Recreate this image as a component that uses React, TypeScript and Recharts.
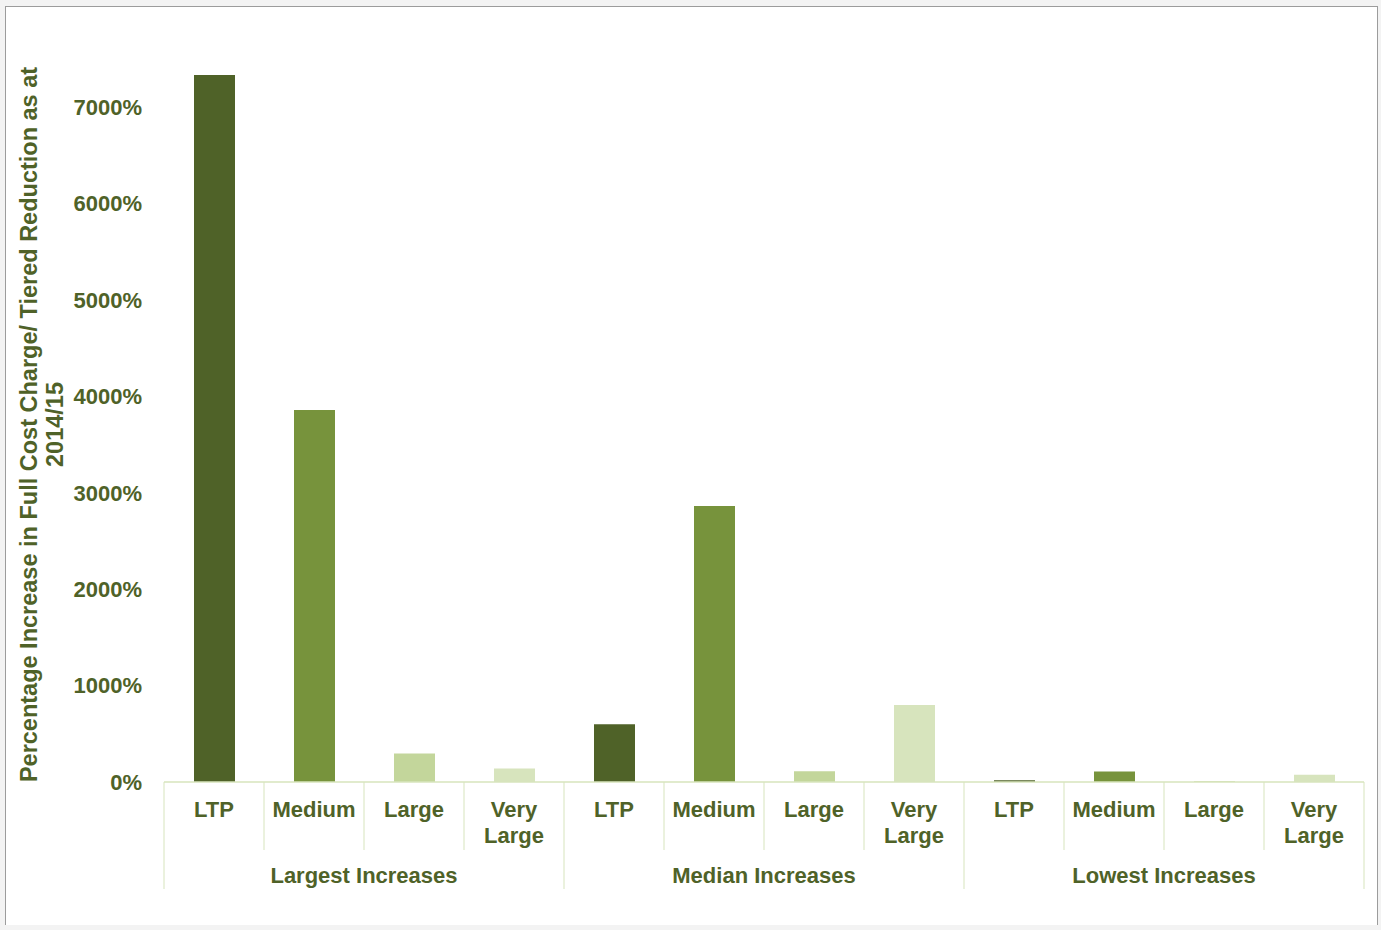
import React from "react";
import { BarChart, Bar, XAxis, YAxis, Cell, Label } from "recharts";

const categories = ["LTP", "Medium", "Large", "Very Large"];
const groups = ["Largest Increases", "Median Increases", "Lowest Increases"];
const largestValues = [7335, 3860, 295, 140];
const medianValues = [600, 2862, 112, 800];
const lowestValues = [18, 108, 8, 75];
const yTicks = [0, 1000, 2000, 3000, 4000, 5000, 6000, 7000];

const barColors: Record<string, string> = {
  LTP: "#4F6228",
  Medium: "#77933C",
  Large: "#C3D69B",
  "Very Large": "#D7E4BD",
};

const seriesByGroup = [largestValues, medianValues, lowestValues];

const data = groups.flatMap((g, gi) =>
  categories.map((c, ci) => ({
    key: `${g}-${c}`,
    category: c,
    group: g,
    first: ci === 0,
    value: seriesByGroup[gi][ci],
  }))
);

const W = 1381;
const H = 930;
const MARGIN = { top: 59, right: 17, bottom: 40, left: 0 };
const Y_WIDTH = 164;
const PLOT_W = W - MARGIN.left - MARGIN.right - Y_WIDTH;
const BAND = PLOT_W / data.length;

const TEXT = "#4F6228";
const LINE = "#D7E4BD";
const FONT = "'Liberation Sans', Arial, sans-serif";

const CategoryTick = (props: any) => {
  const { x, y, index } = props;
  const d = data[index];
  if (!d) return null;
  const lines = d.category.split(" ");
  const last = index === data.length - 1;
  return (
    <g>
      <line x1={x - BAND / 2} x2={x - BAND / 2} y1={y} y2={y + (d.first ? 107 : 68)} stroke={LINE} />
      {last && <line x1={x + BAND / 2} x2={x + BAND / 2} y1={y} y2={y + 107} stroke={LINE} />}
      {lines.map((l: string, i: number) => (
        <text
          key={i}
          x={x}
          y={y + 35 + i * 26}
          textAnchor="middle"
          fill={TEXT}
          fontSize={22}
          fontWeight="bold"
          fontFamily={FONT}
        >
          {l}
        </text>
      ))}
      {d.first && (
        <text
          x={x + BAND * 1.5}
          y={y + 101}
          textAnchor="middle"
          fill={TEXT}
          fontSize={22}
          fontWeight="bold"
          fontFamily={FONT}
        >
          {d.group}
        </text>
      )}
    </g>
  );
};

const YLabel = (props: any) => {
  const vb = props.viewBox || { x: 0, y: MARGIN.top, height: 723 };
  const cy = vb.y + vb.height / 2 + 4;
  const cx = vb.x + 29;
  return (
    <text
      transform={`rotate(-90 ${cx} ${cy})`}
      x={cx}
      y={cy}
      textAnchor="middle"
      fill={TEXT}
      fontSize={23.5}
      fontWeight="bold"
      fontFamily={FONT}
    >
      <tspan x={cx} dy={8}>
        Percentage Increase in Full Cost Charge/  Tiered Reduction as at
      </tspan>
      <tspan x={cx} dy={26}>
        2014/15
      </tspan>
    </text>
  );
};

export default function App() {
  return (
    <div style={{ position: "absolute", left: 0, top: 0, width: W, height: H, background: "#f3f3f3" }}>
      <div
        style={{
          position: "absolute",
          left: 5,
          top: 6,
          width: 1371,
          height: 918,
          background: "#fff",
          border: "1px solid #9c9c9c",
          borderBottom: "none",
        }}
      />
      <div style={{ position: "absolute", left: 0, top: 0 }}>
        <BarChart width={W} height={H} data={data} margin={MARGIN} barSize={41}>
          <XAxis
            dataKey="key"
            interval={0}
            height={108}
            tickLine={false}
            tickSize={0}
            tickMargin={0}
            axisLine={{ stroke: LINE, strokeWidth: 1.5 }}
            tick={<CategoryTick />}
          />
          <YAxis
            width={Y_WIDTH}
            domain={[0, 7500]}
            ticks={yTicks}
            axisLine={false}
            tickLine={false}
            tickMargin={16}
            tickFormatter={(v: number) => `${v}%`}
            tick={{ fill: TEXT, fontSize: 22, fontWeight: "bold", fontFamily: FONT }}
          >
            <Label content={<YLabel />} />
          </YAxis>
          <Bar dataKey="value" isAnimationActive={false}>
            {data.map((d) => (
              <Cell key={d.key} fill={barColors[d.category]} />
            ))}
          </Bar>
        </BarChart>
      </div>
    </div>
  );
}
